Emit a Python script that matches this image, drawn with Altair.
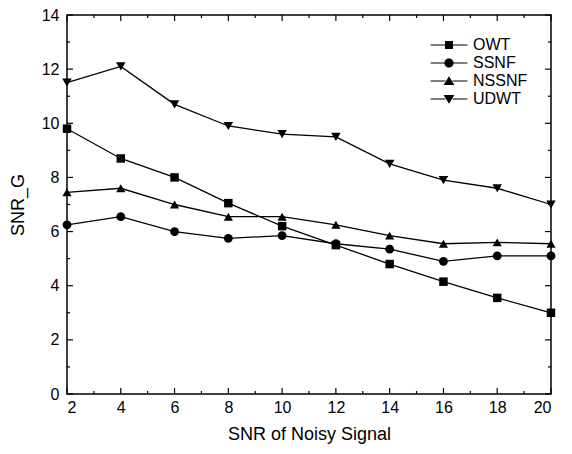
import altair as alt
import pandas as pd

snr = [2, 4, 6, 8, 10, 12, 14, 16, 18, 20]
owt = [9.8, 8.7, 8.0, 7.05, 6.2, 5.5, 4.8, 4.15, 3.55, 3.0]
ssnf = [6.25, 6.55, 6.0, 5.75, 5.85, 5.55, 5.35, 4.9, 5.1, 5.1]
nssnf = [7.45, 7.6, 7.0, 6.55, 6.55, 6.25, 5.85, 5.55, 5.6, 5.55]
udwt = [11.5, 12.1, 10.7, 9.9, 9.6, 9.5, 8.5, 7.9, 7.6, 7.0]
series_names = ["OWT", "SSNF", "NSSNF", "UDWT"]
series_values = [owt, ssnf, nssnf, udwt]

x_ticks_major = [2, 4, 6, 8, 10, 12, 14, 16, 18, 20]
x_ticks_minor = [3, 5, 7, 9, 11, 13, 15, 17, 19]
y_ticks_major = [0, 2, 4, 6, 8, 10, 12, 14]
y_ticks_minor = [1, 3, 5, 7, 9, 11, 13]

rows = []
for name, vals in zip(series_names, series_values):
    for xv, yv in zip(snr, vals):
        rows.append({"snr": xv, "value": yv, "series": name})
df = pd.DataFrame(rows)

W, H = 484, 379
FONT = "Liberation Sans"

xs = alt.Scale(domain=[2, 20], nice=False, zero=False)
ys = alt.Scale(domain=[0, 14], nice=False)

marker_shapes = ["square", "circle", "triangle-up", "triangle-down"]
marker_sizes = [72, 90, 120, 120]

LINE_L = "M-4.6,-0.15H-0.9V0.15H-4.6Z"
LINE_R = "M0.9,-0.15H4.6V0.15H0.9Z"
legend_paths = [
    LINE_L + LINE_R + "M-1,-1H1V1H-1Z",
    LINE_L + LINE_R + "M1.15,0A1.15,1.15 0 1,1 -1.15,0A1.15,1.15 0 1,1 1.15,0Z",
    LINE_L + LINE_R + "M0,-1.2L1.35,1L-1.35,1Z",
    LINE_L + LINE_R + "M0,1.2L1.35,-1L-1.35,-1Z",
]

base = alt.Chart(df)

lines = base.mark_line(color="black", strokeWidth=1.3).encode(
    x=alt.X("snr:Q", scale=xs,
            axis=alt.Axis(values=x_ticks_major, title="SNR of Noisy Signal",
                          ticks=False, tickSize=0, domain=False, grid=False,
                          labelPadding=5, titlePadding=10)),
    y=alt.Y("value:Q", scale=ys,
            axis=alt.Axis(values=y_ticks_major, title="SNR_G",
                          ticks=False, tickSize=0, domain=False, grid=False,
                          labelPadding=8, titlePadding=14)),
    detail="series:N",
)

points = base.mark_point(filled=True, color="black", opacity=1).encode(
    x=alt.X("snr:Q", scale=xs),
    y=alt.Y("value:Q", scale=ys),
    shape=alt.Shape("series:N", scale=alt.Scale(domain=series_names, range=marker_shapes),
                    legend=None),
    size=alt.Size("series:N", scale=alt.Scale(domain=series_names, range=marker_sizes),
                  legend=None),
)

legend_layer = base.transform_filter("false").mark_point(
    filled=True, color="black", size=64, opacity=1
).encode(
    x=alt.X("snr:Q", scale=xs),
    y=alt.Y("value:Q", scale=ys),
    shape=alt.Shape(
        "series:N",
        scale=alt.Scale(domain=series_names, range=legend_paths),
        legend=alt.Legend(
            title=None, orient="none", legendX=374, legendY=22,
            symbolSize=64, labelOffset=16, rowPadding=2, padding=0,
            symbolFillColor="black", symbolStrokeColor="black",
            symbolStrokeWidth=0, symbolOpacity=1,
            labelFontSize=16, labelFont=FONT, labelColor="black",
        ),
    ),
)

def tick_layer(vals, axis, length, side):
    d = pd.DataFrame({"t": vals})
    c = alt.Chart(d).mark_rule(color="black", strokeWidth=1.2)
    if axis == "x":
        if side == "bottom":
            return c.encode(x=alt.X("t:Q", scale=xs), y=alt.value(H), y2=alt.value(H - length))
        return c.encode(x=alt.X("t:Q", scale=xs), y=alt.value(0), y2=alt.value(length))
    if side == "left":
        return c.encode(y=alt.Y("t:Q", scale=ys), x=alt.value(0), x2=alt.value(length))
    return c.encode(y=alt.Y("t:Q", scale=ys), x=alt.value(W), x2=alt.value(W - length))

ticks = [
    tick_layer(x_ticks_major, "x", 6, "bottom"),
    tick_layer(x_ticks_minor, "x", 3, "bottom"),
    tick_layer(x_ticks_major, "x", 6, "top"),
    tick_layer(x_ticks_minor, "x", 3, "top"),
    tick_layer(y_ticks_major, "y", 6, "left"),
    tick_layer(y_ticks_minor, "y", 3, "left"),
    tick_layer(y_ticks_major, "y", 6, "right"),
    tick_layer(y_ticks_minor, "y", 3, "right"),
]

chart = alt.layer(lines, *ticks, points, legend_layer).resolve_scale(
    shape="independent"
).properties(
    width=W, height=H,
    background="white",
    autosize=alt.AutoSizeParams(type="none"),
    padding={"left": 59, "top": 7, "right": 13, "bottom": 50},
).configure_view(
    stroke="black", strokeWidth=1.5
).configure_axis(
    labelFont=FONT, titleFont=FONT, labelFontSize=16, titleFontSize=18,
    labelColor="black", titleColor="black", titleFontWeight="normal",
)

chart.save("out.html", embed_options={"renderer": "svg", "actions": False})
